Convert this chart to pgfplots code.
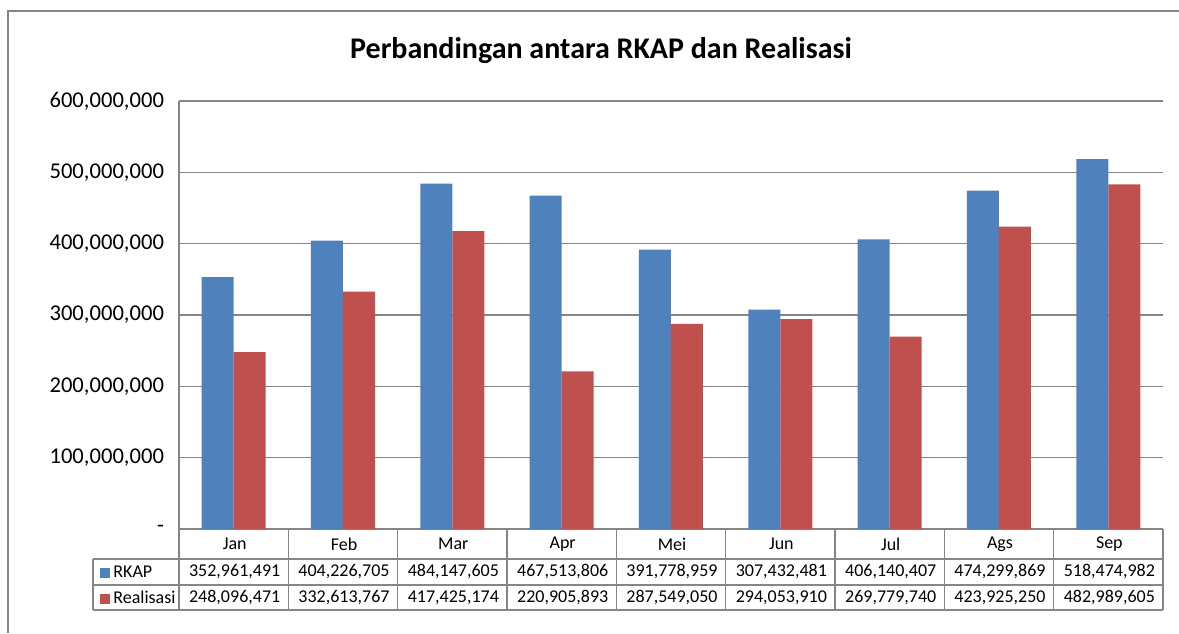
\documentclass[border=0pt]{standalone}
\usepackage{pgfplots}
\pgfplotsset{compat=1.18}
\usepackage{fontspec}
\setmainfont{Carlito}
\definecolor{rkap}{RGB}{79,129,189}
\definecolor{real}{RGB}{192,80,77}
\definecolor{linegray}{RGB}{134,134,134}

\begin{document}
\begin{tikzpicture}
\useasboundingbox (0,0) rectangle (589.5pt,316.5pt);
% chart frame (left and top edge only, rest is cropped)
\draw[linegray, line width=0.9pt] (4pt,0) -- (4pt,311pt) -- (589.5pt,311pt);
\node[font=\bfseries\fontsize{15}{18}\selectfont] at (300.5pt,291pt)
  {Perbandingan antara RKAP dan Realisasi};

\begin{axis}[
  name=ax, at={(89.5pt,52pt)}, anchor=south west,
  scale only axis, width=492pt, height=214pt,
  ybar=0pt, bar width=16pt,
  xmin=-0.5, xmax=8.5, ymin=0, ymax=6e8,
  xtick=\empty,
  scaled y ticks=false,
  ytick={0,1e8,2e8,3e8,4e8,5e8,6e8},
  yticklabels={-,{100,000,000},{200,000,000},{300,000,000},{400,000,000},{500,000,000},{600,000,000}},
  ymajorgrids, grid style={linegray, line width=0.75pt},
  axis x line*=bottom, axis y line*=left,
  axis line style={linegray, line width=0.75pt, -},
  major tick length=0pt,
  yticklabel style={font=\fontsize{11.3}{13}\selectfont, xshift=-4pt},
  clip=false,
]
\addplot[fill=rkap, draw=none] coordinates {
  (0,352961491) (1,404226705) (2,484147605) (3,467513806) (4,391778959)
  (5,307432481) (6,406140407) (7,474299869) (8,518474982)};
\addplot[fill=real, draw=none] coordinates {
  (0,248096471) (1,332613767) (2,417425174) (3,220905893) (4,287549050)
  (5,294053910) (6,269779740) (7,423925250) (8,482989605)};
\end{axis}

% data table under the plot
\begin{scope}[linegray, line width=0.75pt]
  \foreach \k in {1,...,9}
    \draw ({89.5pt+\k*54.6667pt},52pt) -- ({89.5pt+\k*54.6667pt},11.5pt);
  \draw (89.5pt,52pt) -- (89.5pt,11.5pt);
  \draw (46.5pt,37pt) -- (581.5pt,37pt);
  \draw (46.5pt,24pt) -- (581.5pt,24pt);
  \draw (46.5pt,11.5pt) -- (581.5pt,11.5pt);
  \draw (46.5pt,37pt) -- (46.5pt,11.5pt);
\end{scope}

\begin{scope}[font=\fontsize{9}{11}\selectfont]
  \foreach \m [count=\i from 0] in {Jan,Feb,Mar,Apr,Mei,Jun,Jul,Ags,Sep}
    \node at ({117.333pt+\i*54.6667pt},44.5pt) {\m};
  \foreach \i/\a/\b in {
      0/{352,961,491}/{248,096,471},
      1/{404,226,705}/{332,613,767},
      2/{484,147,605}/{417,425,174},
      3/{467,513,806}/{220,905,893},
      4/{391,778,959}/{287,549,050},
      5/{307,432,481}/{294,053,910},
      6/{406,140,407}/{269,779,740},
      7/{474,299,869}/{423,925,250},
      8/{518,474,982}/{482,989,605}} {
    \node at ({117.333pt+\i*54.6667pt},30.5pt) {\a};
    \node at ({117.333pt+\i*54.6667pt},17.75pt) {\b};
  }
  \node[anchor=west, inner sep=0pt] at (50pt,30.5pt)
    {\textcolor{rkap}{\rule{5pt}{5pt}}\,RKAP};
  \node[anchor=west, inner sep=0pt] at (50pt,17.75pt)
    {\textcolor{real}{\rule{5pt}{5pt}}\,Realisasi};
\end{scope}
\end{tikzpicture}
\end{document}
